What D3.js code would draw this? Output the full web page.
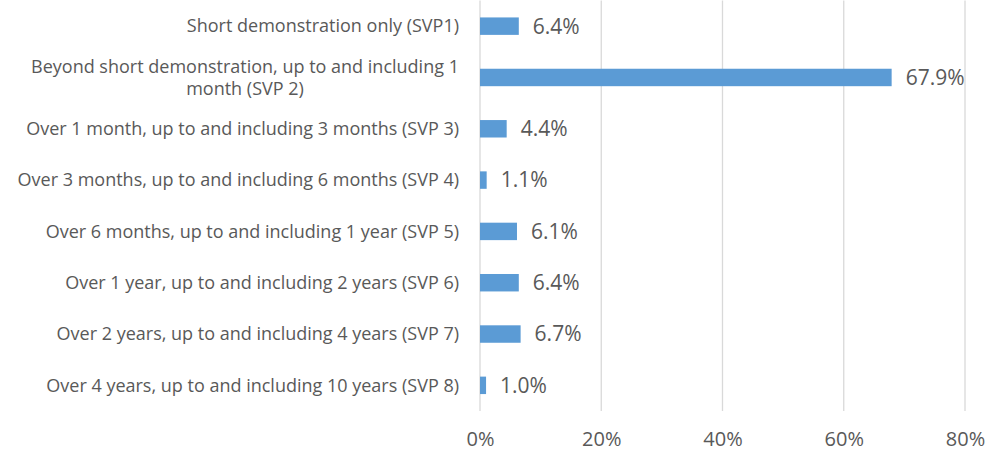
<!DOCTYPE html>
<html>
<head>
<meta charset="utf-8">
<script src="https://cdn.jsdelivr.net/npm/d3@7"></script>
<style>
  body { margin: 0; background: #fff; }
  svg text { font-family: "Open Sans", sans-serif; fill: #595959; }
</style>
</head>
<body>
<svg id="chart" width="1000" height="451"></svg>
<script>
// categories (each entry = lines of the label), values in percent
var categories = [
  ["Short demonstration only (SVP1)"],
  ["Beyond short demonstration, up to and including 1", "month (SVP 2)"],
  ["Over 1 month, up to and including 3 months (SVP 3)"],
  ["Over 3 months, up to and including 6 months (SVP 4)"],
  ["Over 6 months, up to and including 1 year (SVP 5)"],
  ["Over 1 year, up to and including 2 years (SVP 6)"],
  ["Over 2 years, up to and including 4 years (SVP 7)"],
  ["Over 4 years, up to and including 10 years (SVP 8)"]
];
var values = [6.4, 67.9, 4.4, 1.1, 6.1, 6.4, 6.7, 1.0];
var xTicks = [0, 20, 40, 60, 80];

var svg = d3.select('#chart');
var margin = { left: 480, right: 35, top: 0.5, bottom: 40 };
var innerW = 1000 - margin.left - margin.right;
var innerH = 451 - margin.top - margin.bottom;

var g = svg.append('g')
  .attr('transform', `translate(${margin.left}, ${margin.top})`);

var xScale = d3.scaleLinear().domain([0, 80]).range([0, innerW]);
var yScale = d3.scaleBand()
  .domain(d3.range(categories.length))
  .range([0, innerH])
  .paddingInner(0.66)
  .paddingOuter(0.33);

// gridlines
g.selectAll('.grid')
  .data(xTicks)
  .enter().append('line')
  .attr('x1', d => xScale(d))
  .attr('x2', d => xScale(d))
  .attr('y1', 0)
  .attr('y2', innerH)
  .style('stroke', '#d9d9d9')
  .style('stroke-width', 1.3);

// x axis labels
var xAxis = g.append('g')
  .attr('transform', `translate(0, ${innerH})`)
  .call(d3.axisBottom(xScale).tickValues(xTicks).tickFormat(d => d + '%').tickSize(0).tickPadding(21));
xAxis.select('.domain').remove();
xAxis.selectAll('.tick text')
  .style('font-size', '20px')
  .style('font-family', '"Open Sans", sans-serif')
  .attr('fill', '#595959');

// bars
g.selectAll('.bar')
  .data(values)
  .enter().append('rect')
  .attr('class', 'bar')
  .attr('x', xScale(0))
  .attr('y', (d, i) => yScale(i))
  .attr('width', d => xScale(d) - xScale(0))
  .attr('height', yScale.bandwidth())
  .style('fill', '#5b9bd5');

// value labels
g.selectAll('.val')
  .data(values)
  .enter().append('text')
  .attr('x', d => xScale(d) + 14)
  .attr('y', (d, i) => yScale(i) + yScale.bandwidth() / 2)
  .attr('dy', '0.35em')
  .style('font-size', '21px')
  .text(d => d.toFixed(1) + '%');

// category labels
var lineH = 22;
categories.forEach(function (lines, i) {
  var cy = yScale(i) + yScale.bandwidth() / 2;
  var t = g.append('text')
    .attr('text-anchor', lines.length > 1 ? 'middle' : 'end')
    .attr('x', lines.length > 1 ? -235 : -21)
    .style('font-size', '18px');
  lines.forEach(function (l, k) {
    t.append('tspan')
      .attr('x', lines.length > 1 ? -235 : -21)
      .attr('y', cy + (k - (lines.length - 1) / 2) * lineH)
      .attr('dy', '0.35em')
      .text(l);
  });
});
</script>
</body>
</html>
